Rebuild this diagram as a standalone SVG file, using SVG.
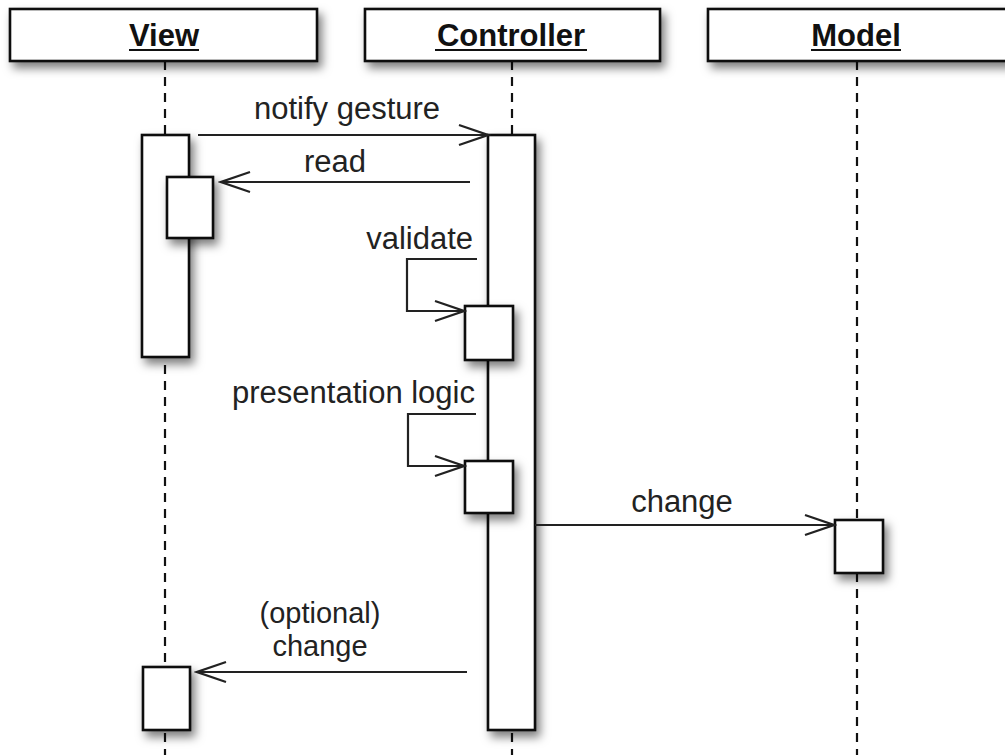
<svg xmlns="http://www.w3.org/2000/svg" width="1005" height="755" viewBox="0 0 1005 755">
<defs>
<filter id="sh" x="-30%" y="-30%" width="170%" height="170%">
<feDropShadow dx="4" dy="6" stdDeviation="5" flood-color="#000" flood-opacity="0.5"/>
</filter>
<marker id="open" markerUnits="userSpaceOnUse" markerWidth="34" markerHeight="24" refX="31" refY="12" orient="auto">
<path d="M2,2 L31,12 L2,22" fill="none" stroke="#222" stroke-width="2.2"/>
</marker>
<style>
.box{fill:#fff;stroke:#111;stroke-width:2.6;filter:url(#sh)}
.life{stroke:#111;stroke-width:2.2;stroke-dasharray:9 7;fill:none}
.hd{font-family:"Liberation Sans",Arial,sans-serif;font-weight:bold;font-size:31px;fill:#111;text-anchor:middle}
.ul{stroke:#111;stroke-width:2}
.lb{font-family:"Liberation Sans",Arial,sans-serif;font-size:31px;fill:#222}
.lb2{font-family:"Liberation Sans",Arial,sans-serif;font-size:29px;fill:#222;text-anchor:middle}
.msg{stroke:#222;stroke-width:2.2;fill:none;marker-end:url(#open)}
</style>
</defs>
<rect width="1005" height="755" fill="#fff"/>
<g id="lifelines">
<line class="life" x1="165" y1="61" x2="165" y2="755"/>
<line class="life" x1="512" y1="61" x2="512" y2="755"/>
<line class="life" x1="857" y1="61" x2="857" y2="755"/>
</g>
<g id="view">
<rect class="box" x="10" y="9" width="307" height="52"/>
<text class="hd" x="164" y="46">View</text>
<line class="ul" x1="129" y1="50" x2="199" y2="50"/>
</g>
<g id="controller">
<rect class="box" x="365" y="9" width="295" height="52"/>
<text class="hd" x="511" y="46">Controller</text>
<line class="ul" x1="435" y1="50" x2="587" y2="50"/>
</g>
<g id="model">
<rect class="box" x="708" y="9" width="305" height="52"/>
<text class="hd" x="856" y="46">Model</text>
<line class="ul" x1="811" y1="50" x2="901" y2="50"/>
</g>
<g id="view-activation">
<rect class="box" x="142" y="135" width="47" height="222"/>
</g>
<g id="view-read">
<rect class="box" x="167" y="177" width="46" height="61"/>
</g>
<g id="view-change">
<rect class="box" x="143" y="667" width="47" height="63"/>
</g>
<g id="controller-activation">
<rect class="box" x="488" y="135" width="47" height="595"/>
</g>
<g id="controller-validate">
<rect class="box" x="465" y="306" width="48" height="54"/>
</g>
<g id="controller-presentation">
<rect class="box" x="465" y="461" width="48" height="52"/>
</g>
<g id="model-activation">
<rect class="box" x="835" y="520" width="48" height="53"/>
</g>
<g id="connectors">
<line class="msg" x1="198" y1="135" x2="488" y2="135"/>
<text class="lb" x="347" y="119" text-anchor="middle">notify gesture</text>
<line class="msg" x1="470" y1="182" x2="221" y2="182"/>
<text class="lb" x="335" y="172" text-anchor="middle">read</text>
<polyline class="msg" points="477,259 407,259 407,311 464,311"/>
<text class="lb" x="473" y="249" text-anchor="end">validate</text>
<polyline class="msg" points="476,414 408,414 408,466 464,466"/>
<text class="lb" x="475" y="403" text-anchor="end">presentation logic</text>
<line class="msg" x1="535" y1="525" x2="834" y2="525"/>
<text class="lb" x="682" y="512" text-anchor="middle">change</text>
<line class="msg" x1="467" y1="672" x2="197" y2="672"/>
<text class="lb2" x="320" y="623">(optional)</text>
<text class="lb2" x="320" y="656">change</text>
</g>
</svg>
